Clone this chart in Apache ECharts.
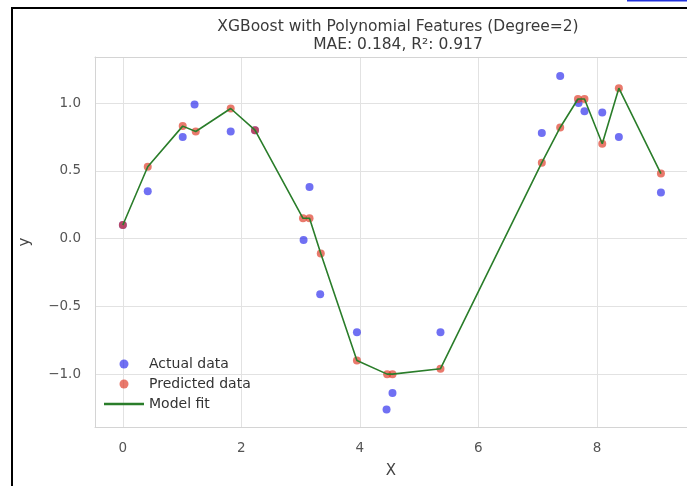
<!DOCTYPE html>
<html>
<head>
<meta charset="utf-8">
<script src="https://cdn.jsdelivr.net/npm/echarts@6/dist/echarts.min.js"></script>
<style>
html,body{margin:0;padding:0;background:#fff;}
#c{width:687px;height:486px;}
</style>
</head>
<body>
<div id="c"></div>
<script>
// Actual data
const actualX = [0.00, 0.42, 1.01, 1.21, 1.82, 2.23, 3.05, 3.15, 3.33, 3.95, 4.45, 4.55, 5.36, 7.07, 7.38, 7.69, 7.79, 8.09, 8.37, 9.08];
const actualY = [0.10, 0.35, 0.75, 0.99, 0.79, 0.80, -0.01, 0.38, -0.41, -0.69, -1.26, -1.14, -0.69, 0.78, 1.20, 1.00, 0.94, 0.93, 0.75, 0.34];
// Predicted data (sorted by X, also used for model fit line)
const predX = [0.00, 0.42, 1.01, 1.23, 1.82, 2.23, 3.04, 3.15, 3.34, 3.95, 4.46, 4.55, 5.36, 7.07, 7.38, 7.68, 7.79, 8.09, 8.37, 9.08];
const predY = [0.10, 0.53, 0.83, 0.79, 0.96, 0.80, 0.15, 0.15, -0.11, -0.90, -1.00, -1.00, -0.96, 0.56, 0.82, 1.03, 1.03, 0.70, 1.11, 0.48];
const xTicks = [0, 2, 4, 6, 8];
const yTicks = [-1.0, -0.5, 0.0, 0.5, 1.0];

const actualPts = actualX.map((x, i) => [x, actualY[i]]);
const predPts = predX.map((x, i) => [x, predY[i]]);

const font = 'DejaVu Sans';
const spine = '#d4d4d4';
const chart = echarts.init(document.getElementById('c'));
chart.setOption({
  backgroundColor: '#ffffff',
  animation: false,
  title: {
    text: 'XGBoost with Polynomial Features (Degree=2)\nMAE: 0.184, R²: 0.917',
    left: 393, top: 13, textAlign: 'center',
    textStyle: { fontFamily: font, fontSize: 15.5, fontWeight: 'normal', color: '#3a3a3a', lineHeight: 18 }
  },
  grid: { left: 95, top: 57, right: 0, bottom: 59, show: false },
  legend: {
    orient: 'vertical', left: 99, top: 352,
    itemWidth: 40, itemHeight: 9, itemGap: 6,
    textStyle: { fontFamily: font, fontSize: 14, color: '#333' },
    data: [
      { name: 'Actual data', icon: 'circle' },
      { name: 'Predicted data', icon: 'circle' },
      { name: 'Model fit', icon: 'path://M0,0 L32,0 L32,2 L0,2 Z' }
    ]
  },
  xAxis: [{
    type: 'value', min: -0.47, max: 9.52,
    name: 'X', nameLocation: 'middle', nameGap: 37,
    nameTextStyle: { fontFamily: font, fontSize: 15, color: '#444' },
    axisLine: { show: true, onZero: false, lineStyle: { color: spine } }, axisTick: { show: false, customValues: xTicks },
    axisLabel: { customValues: xTicks, fontFamily: font, fontSize: 13.5, color: '#555', margin: 14, formatter: v => String(v) },
    splitLine: { show: true, lineStyle: { color: '#e2e2e2', width: 1 } }
  }, {
    type: 'value', position: 'top', min: -0.47, max: 9.52,
    axisLine: { show: true, onZero: false, lineStyle: { color: spine } },
    axisTick: { show: false }, axisLabel: { show: false }, splitLine: { show: false }
  }],
  yAxis: {
    type: 'value', min: -1.39, max: 1.34,
    name: 'y', nameLocation: 'middle', nameGap: 62, nameRotate: 90,
    nameTextStyle: { fontFamily: font, fontSize: 15, color: '#444' },
    axisLine: { show: true, onZero: false, lineStyle: { color: spine } }, axisTick: { show: false, customValues: yTicks },
    axisLabel: { customValues: yTicks, fontFamily: font, fontSize: 13.5, color: '#555', margin: 14,
      formatter: v => (v < -1e-9 ? '\u2212' : '') + Math.abs(v).toFixed(1) },
    splitLine: { show: true, lineStyle: { color: '#e2e2e2', width: 1 } }
  },
  series: [
    { name: 'Actual data', type: 'scatter', data: actualPts, symbolSize: 8, z: 2,
      itemStyle: { color: 'rgba(25,25,235,0.78)' } },
    { name: 'Predicted data', type: 'scatter', data: predPts, symbolSize: 8, z: 3,
      itemStyle: { color: 'rgba(222,50,30,0.82)' } },
    { name: 'Model fit', type: 'line', data: predPts, showSymbol: false, symbol: 'none', z: 4,
      lineStyle: { color: '#2a7d2a', width: 1.6 }, itemStyle: { color: '#2a7d2a' } }
  ],
  graphic: [
    { type: 'rect', shape: { x: 11, y: 7, width: 690, height: 2 }, style: { fill: '#000' }, z: 100 },
    { type: 'rect', shape: { x: 11, y: 7, width: 2, height: 490 }, style: { fill: '#000' }, z: 100 },
    { type: 'rect', shape: { x: 627, y: 0, width: 62, height: 1.5 }, style: { fill: '#2233dd' }, z: 100 }
  ]
});
</script>
</body>
</html>
